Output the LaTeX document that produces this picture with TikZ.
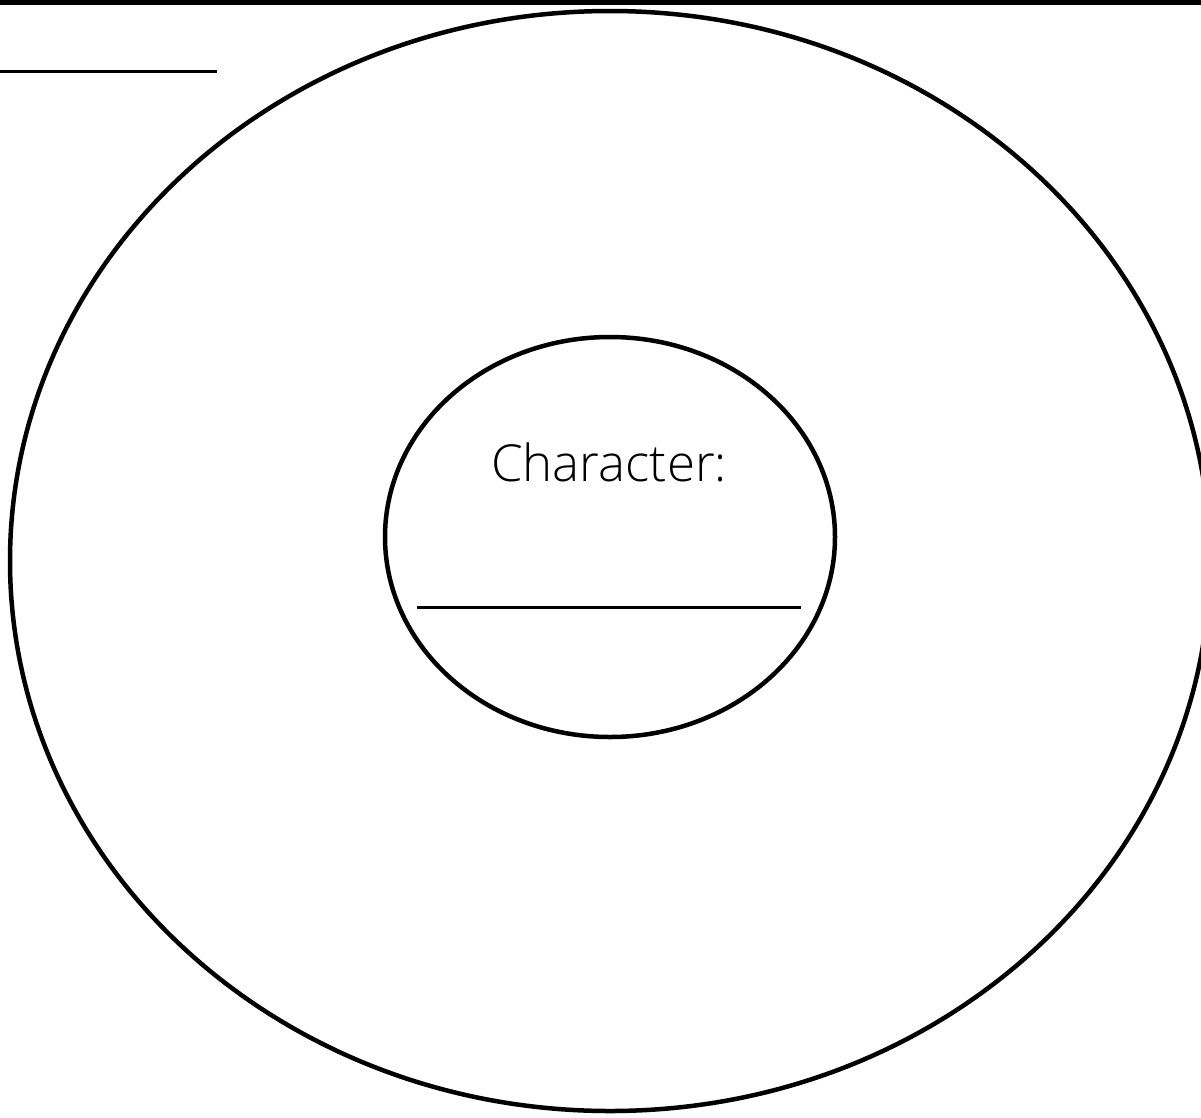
\documentclass[tikz,border=0pt]{standalone}
\usepackage{fontspec}
\setmainfont{Open Sans}[UprightFont=* Light]
\begin{document}
\begin{tikzpicture}[x=1pt,y=-1pt,
  ring/.style={draw=black,line width=4.5pt},
  blank/.style={draw=black,line width=3pt}]
\useasboundingbox (0,0) rectangle (1201,1117);
\begin{scope}
\clip (0,0) rectangle (1201,1117);
\fill[black] (0,0) rectangle (1201,4.5);
\draw[ring] (610,561) ellipse [x radius=600, y radius=550];
\end{scope}
\draw[ring] (610,537) ellipse [x radius=225, y radius=200];
\draw[blank] (0,71) -- (217,71);
\node[font=\fontsize{51}{55}\selectfont, anchor=base] (lbl) at (609,481) {Character:};
\draw[blank] (417,607) -- (801,607);
\end{tikzpicture}
\end{document}
